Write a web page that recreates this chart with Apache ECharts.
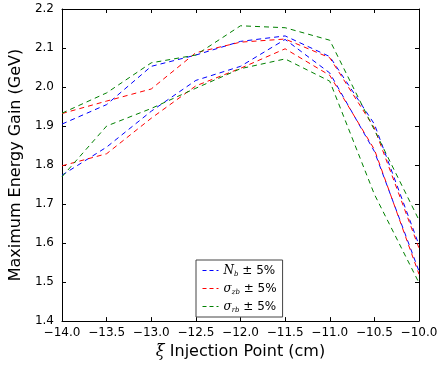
<!DOCTYPE html>
<html>
<head>
<meta charset="utf-8">
<script src="https://cdn.jsdelivr.net/npm/echarts@6/dist/echarts.min.js"></script>
<style>html,body{margin:0;padding:0;background:#fff}#c{width:442px;height:365px}</style>
</head>
<body>
<div id="c"></div>
<script>
// Injection points (cm)
var xi = [-14, -13.5, -13, -12.5, -12, -11.5, -11, -10.5, -10];
// N_b +/- 5%
var nbA = [1.905, 1.955, 2.053, 2.082, 2.117, 2.131, 2.078, 1.905, 1.595];
var nbB = [1.774, 1.846, 1.938, 2.017, 2.053, 2.122, 2.036, 1.835, 1.528];
// sigma_zb +/- 5%
var szA = [1.932, 1.964, 1.995, 2.088, 2.115, 2.123, 2.075, 1.895, 1.587];
var szB = [1.798, 1.829, 1.920, 2.003, 2.048, 2.098, 2.030, 1.840, 1.520];
// sigma_rb +/- 5%
var srA = [1.933, 1.985, 2.062, 2.082, 2.157, 2.152, 2.120, 1.890, 1.659];
var srB = [1.770, 1.900, 1.945, 1.997, 2.047, 2.072, 2.015, 1.725, 1.498];
var yTicks = [1.4, 1.5, 1.6, 1.7, 1.8, 1.9, 2.0, 2.1, 2.2];
var xTicks = [-14, -13.5, -13, -12.5, -12, -11.5, -11, -10.5, -10];

function pts(ys){ return xi.map(function(x,i){ return [x, ys[i]]; }); }
var FONT = 'DejaVu Sans';
function mk(name, color, ys){
  return {name:name, type:'line', data:pts(ys), symbol:'none', color:color,
    lineStyle:{color:color, width:1, type:[5,4]}, animation:false};
}
var legendText = {
  'Nb': '{it|N}{sub|b}{t| ± 5%}',
  'sz': '{it|σ}{sub|zb}{t| ± 5%}',
  'sr': '{it|σ}{sub|rb}{t| ± 5%}'
};
var chart = echarts.init(document.getElementById('c'), null, {renderer:'canvas'});
var axBase = {
  type:'value',
  axisLine:{show:true, lineStyle:{color:'#000', width:1}},
  axisTick:{show:true, inside:true, length:4, lineStyle:{color:'#000'}},
  splitLine:{show:false}
};
chart.setOption({
  animation:false,
  backgroundColor:'#fff',
  grid:{left:61, right:23, top:9, bottom:41, containLabel:false},
  xAxis:[
    Object.assign({}, axBase, {min:-14, max:-10, interval:0.5, position:'bottom',
      axisLabel:{fontFamily:FONT, fontSize:12, color:'#000', margin:6, showMinLabel:true, showMaxLabel:true,
        formatter:function(v){ var s=Math.abs(v).toFixed(1); return (v<0?'\u2212':'')+s; }},
      name:'{g|ξ} Injection Point (cm)', nameLocation:'middle', nameGap:19,
      nameTextStyle:{fontFamily:FONT, fontSize:16, color:'#000', verticalAlign:'top',
        rich:{g:{fontFamily:'DejaVu Serif', fontStyle:'italic', fontSize:16, color:'#000'}}}
    }),
    Object.assign({}, axBase, {min:-14, max:-10, interval:0.5, position:'top', axisLabel:{show:false}})
  ],
  yAxis:[
    Object.assign({}, axBase, {min:1.4, max:2.2, interval:0.1, position:'left',
      axisLabel:{fontFamily:FONT, fontSize:12, color:'#000', margin:8, formatter:function(v){ return v.toFixed(1); }},
      name:'Maximum Energy Gain (GeV)', nameLocation:'middle', nameGap:38,
      nameTextStyle:{fontFamily:FONT, fontSize:16, color:'#000'}
    }),
    Object.assign({}, axBase, {min:1.4, max:2.2, interval:0.1, position:'right', axisLabel:{show:false}})
  ],
  legend:{
    left:196, top:260, orient:'vertical', itemGap:3, itemWidth:16, itemHeight:12,
    padding:[3,6,3,6], borderColor:'#444', borderWidth:1, backgroundColor:'#fff',
    itemStyle:{opacity:0},
    lineStyle:{width:1, type:[4,3]},
    data:['Nb','sz','sr'],
    formatter:function(n){ return legendText[n]; },
    textStyle:{fontFamily:FONT, fontSize:12, color:'#000', lineHeight:15,
      rich:{
        it:{fontFamily:'DejaVu Serif', fontStyle:'italic', fontSize:12, color:'#000', lineHeight:15},
        sub:{fontFamily:'DejaVu Serif', fontStyle:'italic', fontSize:7, color:'#000', verticalAlign:'bottom', lineHeight:15},
        t:{fontFamily:FONT, fontSize:12, color:'#000', lineHeight:15}
      }}
  },
  series:[
    mk('Nb', '#0000ff', nbA), mk('Nb', '#0000ff', nbB),
    mk('sz', '#ff0000', szA), mk('sz', '#ff0000', szB),
    mk('sr', '#008000', srA), mk('sr', '#008000', srB)
  ]
});
</script>
</body>
</html>
